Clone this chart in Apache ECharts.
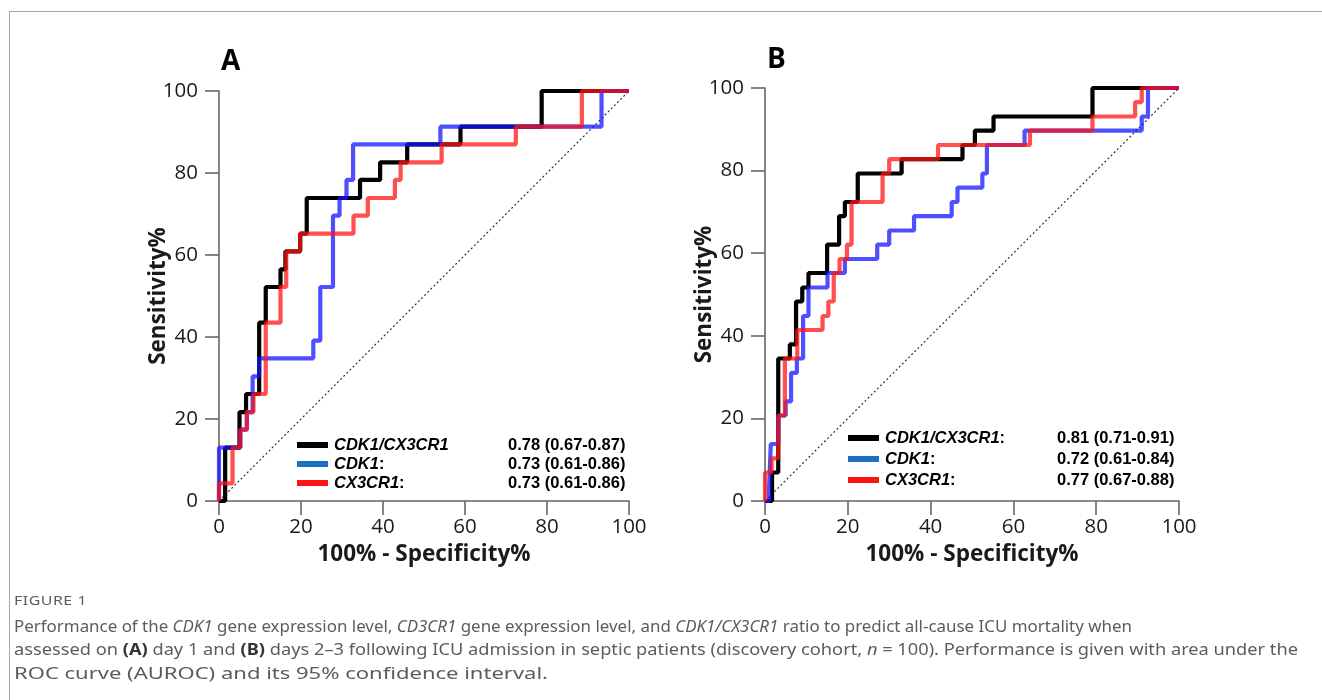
<!DOCTYPE html>
<html>
<head>
<meta charset="utf-8">
<script src="https://cdn.jsdelivr.net/npm/echarts@6/dist/echarts.min.js"></script>
<style>
    html, body {margin: 0; padding: 0; background: #fff; overflow: hidden;}
    #chart {position: absolute; left: 0; top: 0; width: 1322px; height: 700px;}
    #frame {position: absolute; left: 9px; top: 11px; width: 1320px; height: 700px;
        border-top: 1px solid #a8a8a8; border-left: 1px solid #a8a8a8;}
    .cap {position: absolute; left: 14px; font-family: "Noto Sans", "Open Sans", sans-serif;
        color: #5c5c5c; white-space: nowrap; transform-origin: 0 0; line-height: 22px; font-size: 16.5px;}
    .cap b {color: #333;}
</style>
</head>
<body>
<div id="frame"></div>
<div id="chart"></div>
<div class="cap" data-w="73" style="top:589px;font-size:13px;letter-spacing:0.4px;">FIGURE 1</div>
<div class="cap" data-w="1118" style="top:615px;">Performance of the <i>CDK1</i> gene expression level, <i>CD3CR1</i> gene expression level, and <i>CDK1/CX3CR1</i> ratio to predict all-cause ICU mortality when</div>
<div class="cap" data-w="1284" style="top:638px;">assessed on <b>(A)</b> day 1 and <b>(B)</b> days 2–3 following ICU admission in septic patients (discovery cohort, <i>n</i> = 100). Performance is given with area under the</div>
<div class="cap" data-w="534" style="top:662px;">ROC curve (AUROC) and its 95% confidence interval.</div>
<script>
    // ROC points (100% - specificity, sensitivity)
    var ratioA = [[0, 0], [1.5, 13.0], [5.0, 21.7], [6.6, 26.1], [9.8, 43.5], [11.4, 52.2], [15.0, 56.5], [16.2, 60.9],
        [19.8, 65.2], [21.4, 73.9], [34.4, 78.3], [39.3, 82.6], [45.9, 87.0], [58.9, 91.3], [78.7, 100], [100, 100]];
    var cdk1A = [[0, 0], [0, 13.0], [5.2, 17.4], [6.8, 21.7], [8.2, 30.4], [9.8, 34.8], [23.0, 39.1], [24.7, 52.2],
        [27.8, 69.6], [29.4, 73.9], [31.1, 78.3], [32.7, 87.0], [54.0, 91.3], [93.3, 100], [100, 100]];
    var cx3cr1A = [[0, 0], [0, 4.3], [3.3, 13.0], [5.2, 17.4], [6.8, 21.7], [8.4, 26.1], [11.4, 43.5], [15.0, 52.2],
        [16.4, 60.9], [19.8, 65.2], [32.8, 69.6], [36.3, 73.9], [42.9, 78.3], [44.3, 82.6], [54.3, 87.0], [72.4, 91.3],
        [88.5, 100], [100, 100]];

    var ratioB = [[0, 0], [1.7, 6.9], [3.2, 34.5], [6.0, 37.9], [7.5, 48.3], [9.0, 51.7], [10.5, 55.2], [15.0, 62.1],
        [17.9, 69.0], [19.3, 72.4], [22.4, 79.3], [33.0, 82.8], [47.7, 86.2], [50.7, 89.7], [55.2, 93.1], [79.1, 100], [100, 100]];
    var cdk1B = [[0, 0], [1.0, 3.4], [1.4, 13.8], [3.2, 20.7], [5.0, 24.1], [6.3, 31.0], [7.7, 34.5], [9.2, 44.8],
        [10.5, 51.7], [15.1, 55.2], [19.3, 58.6], [27.1, 62.1], [30.0, 65.5], [36.0, 69.0], [45.1, 72.4], [46.5, 75.9],
        [52.5, 79.3], [53.6, 86.2], [62.7, 89.7], [91.0, 93.1], [92.5, 100], [100, 100]];
    var cx3cr1B = [[0, 0], [0, 6.9], [1.6, 10.3], [3.2, 20.7], [4.8, 34.5], [7.8, 41.4], [13.9, 44.8], [15.3, 48.3],
        [16.6, 55.2], [18.0, 58.6], [19.8, 62.1], [20.9, 72.4], [28.4, 79.3], [30.0, 82.8], [41.8, 86.2], [64.0, 89.7],
        [79.1, 93.1], [89.4, 96.6], [91.0, 100], [100, 100]];

    var diagonal = [[0, 0], [100, 100]];

    var panelLabels = ['A', 'B'];
    var legendNamesA = ['CDK1/CX3CR1', 'CDK1', 'CX3CR1'];
    var legendColonsA = ['', ':', ':'];
    var legendNamesB = ['CDK1/CX3CR1', 'CDK1', 'CX3CR1'];
    var legendColonsB = [':', ':', ':'];
    var aurocA = ['0.78 (0.67-0.87)', '0.73 (0.61-0.86)', '0.73 (0.61-0.86)'];
    var aurocB = ['0.81 (0.71-0.91)', '0.72 (0.61-0.84)', '0.77 (0.67-0.88)'];

    var lineColors = ['#000000', 'rgba(20,20,255,0.75)', 'rgba(255,20,20,0.75)'];
    var keyColors = ['#000000', '#1c6fc4', '#ff1414'];
    var axisColor = '#666';
    var axisFont = '"Open Sans", "Noto Sans", sans-serif';
    var keyFont = '"Liberation Sans", Arial, sans-serif';

    var chart = echarts.init(document.getElementById('chart'), null, {renderer: 'canvas'});

    function makeX(idx) {
        return {
            type: 'value', gridIndex: idx, min: 0, max: 100, interval: 20,
            name: '100% - Specificity%', nameLocation: 'middle', nameGap: 42,
            nameTextStyle: {fontSize: 22.5, fontWeight: 'bold', color: '#1a1a1a', fontFamily: axisFont},
            axisLine: {show: true, lineStyle: {color: axisColor, width: 1.6}},
            axisTick: {show: true, length: 14, lineStyle: {color: axisColor, width: 1.6}},
            axisLabel: {fontSize: 20.5, color: '#1a1a1a', margin: 16, fontFamily: axisFont},
            splitLine: {show: false}
        };
    }

    function makeY(idx) {
        return {
            type: 'value', gridIndex: idx, min: 0, max: 100, interval: 20,
            name: 'Sensitivity%', nameLocation: 'middle', nameGap: 49, nameMoveOverlap: false,
            nameTextStyle: {fontSize: 22.5, fontWeight: 'bold', color: '#1a1a1a', fontFamily: axisFont},
            axisLine: {show: true, lineStyle: {color: axisColor, width: 1.6}},
            axisTick: {show: true, length: 14, lineStyle: {color: axisColor, width: 1.6}},
            axisLabel: {fontSize: 20.5, color: '#1a1a1a', margin: 21, fontFamily: axisFont},
            splitLine: {show: false}
        };
    }

    function rocLine(name, data, idx, color) {
        return {
            type: 'line', name: name, xAxisIndex: idx, yAxisIndex: idx,
            data: data, step: 'end', symbol: 'none', clip: false, silent: true,
            lineStyle: {color: color, width: 4.2}
        };
    }

    function chanceLine(idx) {
        return {
            type: 'line', xAxisIndex: idx, yAxisIndex: idx, data: diagonal,
            symbol: 'none', silent: true,
            lineStyle: {color: '#333', width: 1.2, type: [2, 2.4]}
        };
    }

    // key with line sample, gene name (italic) and AUROC value
    function keyRows(x0, y0, dy, names, colons, values, valueX) {
        var out = [];
        for (var i = 0; i < names.length; i++) {
            var y = y0 + i * dy;
            out.push({
                type: 'rect', shape: {x: x0, y: y - 3, width: 31, height: 6},
                style: {fill: keyColors[i]}
            });
            out.push({
                type: 'text', x: x0 + 37, y: y,
                style: {
                    text: '{i|' + names[i] + '}' + (colons[i] ? '{c|' + colons[i] + '}' : ''),
                    verticalAlign: 'middle', fill: '#000',
                    rich: {
                        i: {fontStyle: 'italic', fontWeight: 'bold', fontSize: 16.5, fontFamily: keyFont},
                        c: {fontWeight: 'bold', fontSize: 16.5, fontFamily: keyFont}
                    }
                }
            });
            out.push({
                type: 'text', x: valueX, y: y,
                style: {
                    text: values[i], verticalAlign: 'middle', fill: '#000',
                    font: 'bold 16.5px ' + keyFont
                }
            });
        }
        return out;
    }

    var graphics = [
        {type: 'text', x: 221, y: 62, style: {text: panelLabels[0], verticalAlign: 'middle', fill: '#000', font: 'bold 28px ' + axisFont}},
        {type: 'text', x: 767, y: 60, style: {text: panelLabels[1], verticalAlign: 'middle', fill: '#000', font: 'bold 28px ' + axisFont}}
    ];
    graphics = graphics.concat(keyRows(297, 445, 19, legendNamesA, legendColonsA, aurocA, 508));
    graphics = graphics.concat(keyRows(848, 438, 21, legendNamesB, legendColonsB, aurocB, 1057));

    var option = {
        animation: false,
        grid: [
            {left: 219, top: 91, width: 410, height: 410},
            {left: 765, top: 88, width: 414, height: 413}
        ],
        xAxis: [makeX(0), makeX(1)],
        yAxis: [makeY(0), makeY(1)],
        series: [
            chanceLine(0),
            rocLine('CDK1/CX3CR1', ratioA, 0, lineColors[0]),
            rocLine('CDK1', cdk1A, 0, lineColors[1]),
            rocLine('CX3CR1', cx3cr1A, 0, lineColors[2]),
            chanceLine(1),
            rocLine('CDK1/CX3CR1', ratioB, 1, lineColors[0]),
            rocLine('CDK1', cdk1B, 1, lineColors[1]),
            rocLine('CX3CR1', cx3cr1B, 1, lineColors[2])
        ],
        graphic: graphics
    };
    chart.setOption(option);

    // fit each caption line to the width it has in the figure
    var caps = document.querySelectorAll('.cap');
    for (var k = 0; k < caps.length; k++) {
        var w = caps[k].getBoundingClientRect().width;
        var target = +caps[k].getAttribute('data-w');
        if (w > 0) caps[k].style.transform = 'scaleX(' + (target / w) + ')';
    }
</script>
</body>
</html>
